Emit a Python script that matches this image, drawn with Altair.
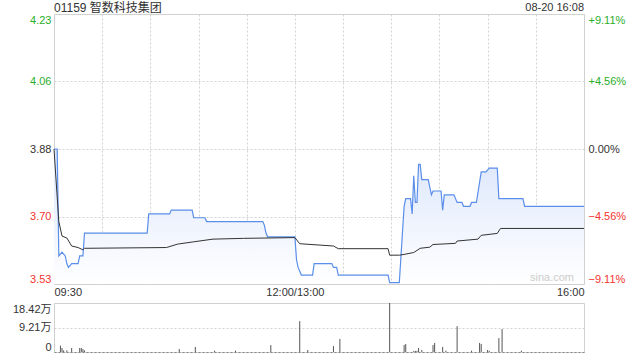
import altair as alt
import pandas as pd

FONT = "Liberation Sans, Arial, Noto Sans CJK SC"
GREEN = "#2aae2a"
RED = "#f2332f"
DARK = "#333333"

title_text = ["01159 智数科技集团"]
date_text = ["08-20 16:08"]
watermark_text = ["sina.com"]

prev_close = 3.88
pct_ticks = [-9.11, -4.56, 0.0, 4.56, 9.11]

# minute index from 09:30 (0) to 16:00 (330), lunch break removed (12:00 = 13:00 = 150)
time_tick_minutes = [0, 150, 330]
time_tick_labels = ["09:30", "12:00/13:00", "16:00"]

price_minutes = [0, 2, 3, 5, 7, 8, 9, 11, 15, 16, 18, 19, 58, 59, 72, 73, 86, 87, 94, 95,
                 130, 131, 132, 133, 150, 151, 152, 154, 161, 162, 173, 174, 176, 177,
                 208, 209, 215, 218, 219, 222, 223, 224, 225, 226, 227, 228, 229, 233,
                 235, 236, 241, 242, 243, 249, 251, 254, 255, 259, 260, 263, 266, 269,
                 271, 276, 277, 292, 293, 330]
price_values = [3.88, 3.88, 3.60, 3.61, 3.60, 3.58, 3.57, 3.58, 3.58, 3.60, 3.60, 3.66, 3.66, 3.71, 3.71, 3.72, 3.72, 3.70, 3.70, 3.69,
                3.69, 3.68, 3.66, 3.65, 3.65, 3.59, 3.57, 3.55, 3.55, 3.58, 3.58, 3.57, 3.57, 3.55,
                3.55, 3.53, 3.53, 3.73, 3.75, 3.75, 3.71, 3.81, 3.74, 3.74, 3.84, 3.84, 3.80, 3.80,
                3.76, 3.77, 3.77, 3.72, 3.76, 3.76, 3.74, 3.74, 3.73, 3.73, 3.74, 3.74, 3.82, 3.82,
                3.83, 3.83, 3.75, 3.75, 3.73, 3.73]

avg_minutes = [0, 3, 5, 8, 11, 15, 18, 19, 70, 77, 87, 99, 118, 150, 153, 174, 177, 208, 209,
               215, 218, 224, 228, 234, 236, 241, 250, 251, 264, 266, 276, 278, 330]
avg_values = [3.88, 3.69, 3.652, 3.647, 3.626, 3.622, 3.616, 3.620, 3.622, 3.631, 3.637, 3.644, 3.646, 3.648, 3.632, 3.626, 3.619, 3.619, 3.602,
              3.602, 3.604, 3.609, 3.620, 3.623, 3.630, 3.631, 3.633, 3.639, 3.644, 3.654, 3.659, 3.672, 3.672]

vol_minutes = [4, 5, 6, 8, 11, 16, 17, 18, 19, 78, 88, 100, 113, 135, 153, 158, 174, 178, 209, 218,
               219, 224, 225, 226, 227, 229, 236, 237, 242, 244, 251, 260, 265, 266, 270, 271, 277, 279, 291]
vol_values = [2.4, 1.5, 0.6, 0.6, 1.5, 1.5, 1.5, 1.1, 0.6, 1.1, 1.9, 0.5, 0.5, 2.6, 11.6, 0.75, 2.2, 4.9, 18.42, 2.6,
              3.0, 0.4, 0.4, 0.4, 1.5, 0.75, 2.6, 3.4, 1.9, 0.5, 9.7, 0.5, 3.4, 3.0, 0.75, 0.4, 5.2, 8.6, 0.5]
vol_ticks = [0, 9.21, 18.42]

price_df = pd.DataFrame({"m": price_minutes, "p": price_values})
avg_df = pd.DataFrame({"m": avg_minutes, "p": avg_values})
vol_df = pd.DataFrame({"m": vol_minutes, "v": vol_values})

price_tick_values = [prev_close * (1 + p / 100) for p in pct_ticks]
y_min, y_max = price_tick_values[0], price_tick_values[-1]

x_scale = alt.Scale(domain=[0, 330], nice=False, zero=False)
y_scale = alt.Scale(domain=[y_min, y_max], nice=False, zero=False)

time_expr = " : ".join(
    f"datum.value == {m} ? '{l}'" for m, l in zip(time_tick_minutes, time_tick_labels)
) + " : ''"

GRID = "#d2d2d2"

x_axis = alt.Axis(values=list(range(0, 331, 30)), labelExpr=time_expr, ticks=False, domain=False,
                  grid=True, gridColor=GRID, gridDash=[2, 2], labelFlush=True, labelOverlap=False,
                  labelPadding=2, labelFontSize=11, labelColor=DARK, title=None)

color_cond = {"condition": [{"test": f"datum.value > {prev_close + 0.001}", "value": GREEN},
                            {"test": f"datum.value < {prev_close - 0.001}", "value": RED}],
              "value": DARK}

left_axis = alt.Axis(values=price_tick_values, labelExpr="format(datum.value, '.2f')", ticks=False,
                     domain=False, grid=True, gridColor=GRID, gridDash=[2, 2], labelFlush=True,
                     labelOverlap=False, labelPadding=3, labelFontSize=11, labelColor=color_cond, title=None)

right_axis = alt.Axis(values=price_tick_values, orient="right",
                      labelExpr=f"(datum.value > {prev_close + 0.001} ? '+' : '') + format((datum.value / {prev_close} - 1) * 100, '.2f') + '%'",
                      ticks=False, domain=False, grid=False, labelFlush=True, labelOverlap=False,
                      labelPadding=4, labelFontSize=11, labelColor=color_cond, title=None)

gradient = alt.Gradient(gradient="linear",
                        stops=[alt.GradientStop(color="#dbe6fb", offset=0),
                               alt.GradientStop(color="#ffffff", offset=1)],
                        x1=1, x2=1, y1=0, y2=1)

area = alt.Chart(price_df).mark_area(color=gradient).encode(
    x=alt.X("m:Q", scale=x_scale, axis=x_axis),
    y=alt.Y("p:Q", scale=y_scale, axis=left_axis),
    y2=alt.datum(y_min),
)
blue = alt.Chart(price_df).mark_line(color="#5a8eea", strokeWidth=1.2).encode(
    x=alt.X("m:Q", scale=x_scale, axis=x_axis),
    y=alt.Y("p:Q", scale=y_scale, axis=None),
)
avg = alt.Chart(avg_df).mark_line(color="#333333", strokeWidth=1).encode(
    x=alt.X("m:Q", scale=x_scale, axis=x_axis),
    y=alt.Y("p:Q", scale=y_scale, axis=None),
)
right = alt.Chart(price_df).mark_line(opacity=0).encode(
    x=alt.X("m:Q", scale=x_scale, axis=x_axis),
    y=alt.Y("p:Q", scale=y_scale, axis=right_axis),
)
title = alt.Chart(pd.DataFrame({"t": title_text})).mark_text(
    align="left", baseline="middle", fontSize=12, font=FONT, color=DARK
).encode(text="t:N", x=alt.value(0), y=alt.value(-6))
date = alt.Chart(pd.DataFrame({"t": date_text})).mark_text(
    align="right", baseline="middle", fontSize=11, font=FONT, color=DARK
).encode(text="t:N", x=alt.value(530), y=alt.value(-6))
wm = alt.Chart(pd.DataFrame({"t": watermark_text})).mark_text(
    align="center", baseline="middle", fontSize=11, font=FONT, color="#cccccc"
).encode(text="t:N", x=alt.value(498), y=alt.value(264))

top = alt.layer(area, blue, avg, right, title, date, wm).resolve_axis(y="independent").properties(
    width=530, height=270
)

vol_axis = alt.Axis(values=vol_ticks,
                    labelExpr="datum.value == 0 ? '0' : format(datum.value, '.2f') + '万'",
                    ticks=False, domain=False, grid=True, gridDash=[2, 2],
                    gridColor={"condition": {"test": "datum.value == 0", "value": "#888888"}, "value": GRID},
                    labelFlush=True, labelOverlap=False, labelPadding=3, labelFontSize=11,
                    labelColor=DARK, title=None)

vol = alt.Chart(vol_df).mark_rule(color="#555555", strokeWidth=1).encode(
    x=alt.X("m:Q", scale=x_scale, axis=None),
    y=alt.Y("v:Q", scale=alt.Scale(domain=[0, 18.42], nice=False, zero=True), axis=vol_axis),
    y2=alt.datum(0),
).properties(width=530, height=49)

chart = alt.vconcat(top, vol, spacing=4).properties(
    padding={"left": 11, "top": 1, "right": 0, "bottom": 0}
).configure_view(stroke="#d0d0d0").configure_axis(labelFont=FONT)

chart.save("out.html", embed_options={"renderer": "svg", "actions": False})
